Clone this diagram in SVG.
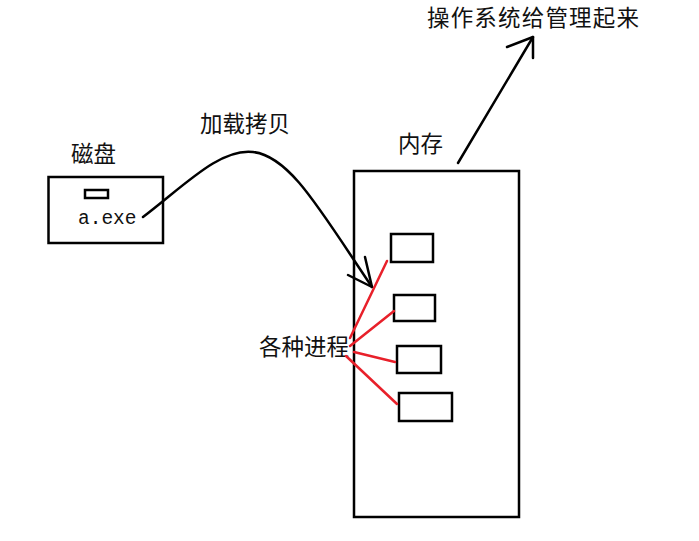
<svg xmlns="http://www.w3.org/2000/svg" width="699" height="541" viewBox="0 0 699 541">
<style>
.box{fill:none;stroke:#000;stroke-width:2.5}
.t{font-family:"Noto Sans CJK SC","Noto Sans CJK JP",sans-serif;font-size:22.5px;fill:#111}
.blk{fill:none;stroke:#000;stroke-width:2.5;stroke-linecap:round;stroke-linejoin:round}
.red{fill:none;stroke:#e8202a;stroke-width:2.5;stroke-linecap:round}
</style>
<rect width="699" height="541" fill="#fff"/>
<g id="disk">
<rect class="box" x="48.5" y="177" width="114.5" height="66"/>
<rect class="box" x="85" y="190" width="23" height="8" stroke-width="2"/>
<text x="78" y="224" font-family="Liberation Mono, monospace" font-size="19.5" fill="#111">a.exe</text>
<text class="t" x="71" y="162">磁盘</text>
</g>
<g id="memory">
<rect class="box" x="354" y="171" width="165" height="346"/>
<text class="t" x="398" y="152">内存</text>
<rect class="box" x="391" y="234" width="42" height="28"/>
<rect class="box" x="394" y="295" width="41" height="26"/>
<rect class="box" x="397" y="346" width="44" height="27"/>
<rect class="box" x="399" y="393" width="53" height="28"/>
</g>
<g id="labels">
<text class="t" x="200" y="132">加载拷贝</text>
<text class="t" x="259" y="355">各种进程</text>
<text class="t" x="427" y="26" textLength="212">操作系统给管理起来</text>
</g>
<g id="connectors">
<path class="blk" d="M143,217 C185,185 220,148 253,152 C290,156 320,210 372,287"/>
<path class="blk" d="M348,275 L372,287 L365,257"/>
<path class="blk" d="M458,163 L533,37"/>
<path class="blk" d="M507,47 L533,37 L533,58"/>
<path class="red" d="M350,338 L387,261"/>
<path class="red" d="M350,346 L394,311"/>
<path class="red" d="M354,352 L395,362"/>
<path class="red" d="M346,356 L397,404"/>
</g>
</svg>
